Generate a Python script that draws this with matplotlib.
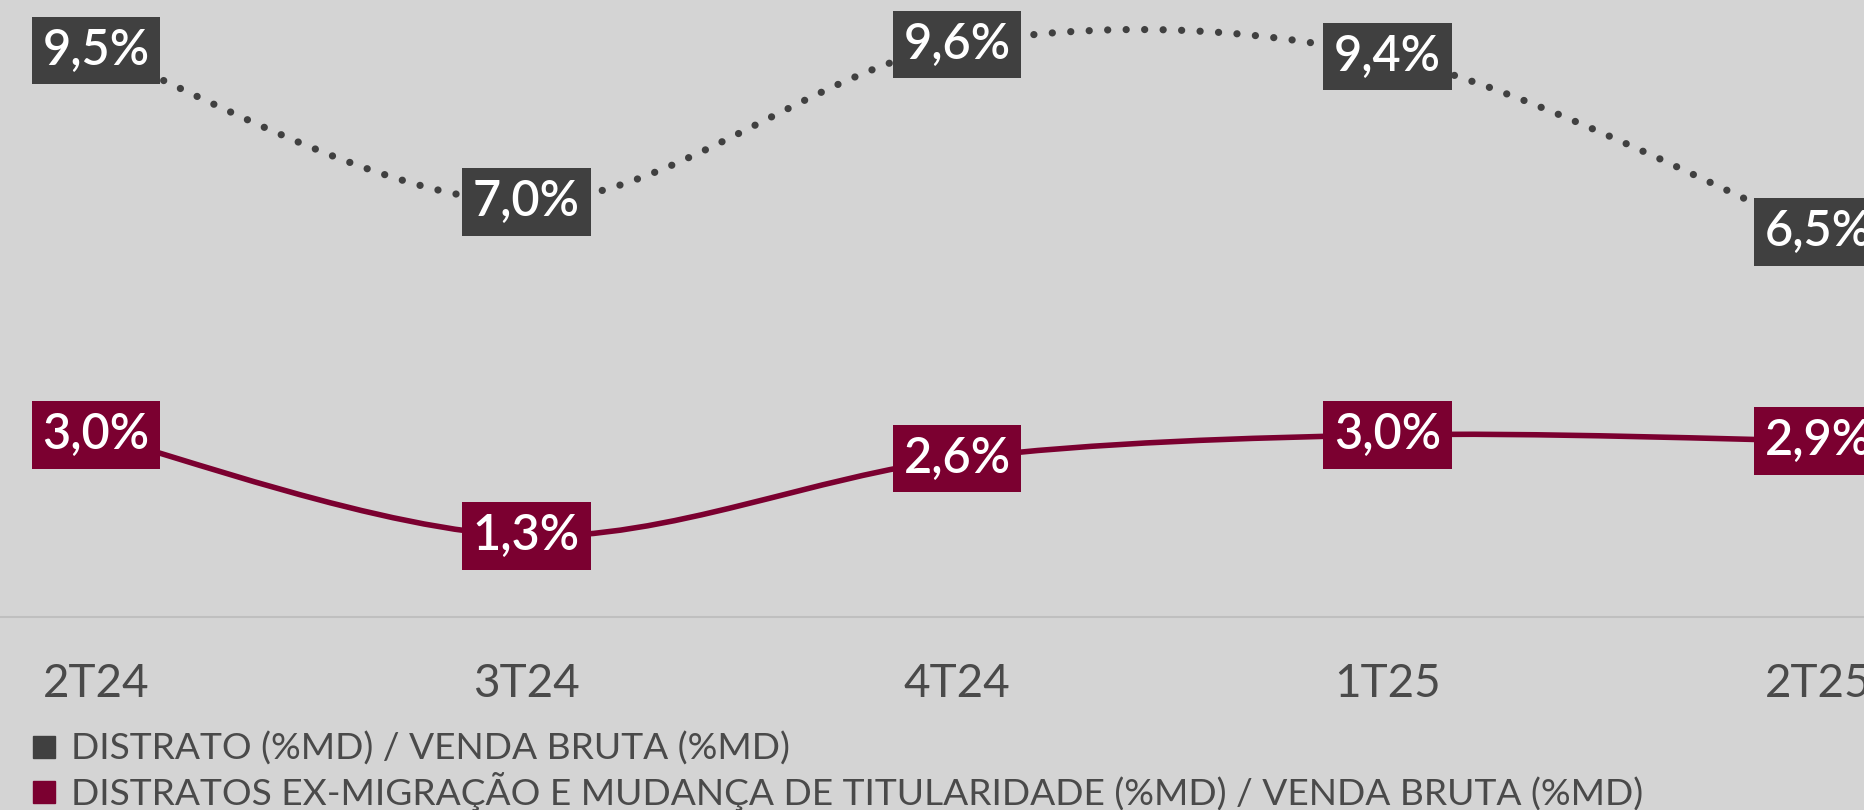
import matplotlib
matplotlib.use("Agg")
import matplotlib.pyplot as plt
from matplotlib.path import Path
from matplotlib.patches import PathPatch
from matplotlib.lines import Line2D

categories = ['2T24', '3T24', '4T24', '1T25', '2T25']
distrato = [9.5, 7.0, 9.6, 9.4, 6.5]
distrato_ex = [3.0, 1.3, 2.6, 3.0, 2.9]
legend_labels = ['DISTRATO (%MD) / VENDA BRUTA (%MD)',
                 'DISTRATOS EX-MIGRAÇÃO E MUDANÇA DE TITULARIDADE (%MD) / VENDA BRUTA (%MD)']

BG = '#D4D4D4'
GRAY = '#404040'
RED = '#7B0030'
TXT = '#4A4A4A'

W, H = 1865, 810
fig = plt.figure(figsize=(W / 100, H / 100), dpi=100, facecolor=BG)
ax_bottom_px = 617
ax = fig.add_axes([0, (H - ax_bottom_px) / H, 1, ax_bottom_px / H])
ax.set_facecolor(BG)
ax2 = ax.twinx()
ax2.patch.set_visible(False)

x = list(range(len(categories)))
step = 430.5
ax.set_xlim(-96 / step, (W - 96) / step)
ax.set_ylim(0.13, 10.34)
ax2.set_ylim(-0.06, 10.31)


def smooth_path(xs, ys):
    verts = [(xs[0], ys[0])]
    codes = [Path.MOVETO]
    n = len(xs)
    for i in range(n - 1):
        p0 = i - 1 if i > 0 else i
        p3 = i + 2 if i + 2 < n else i + 1
        c1 = (xs[i] + (xs[i + 1] - xs[p0]) / 6, ys[i] + (ys[i + 1] - ys[p0]) / 6)
        c2 = (xs[i + 1] - (xs[p3] - xs[i]) / 6, ys[i + 1] - (ys[p3] - ys[i]) / 6)
        verts += [c1, c2, (xs[i + 1], ys[i + 1])]
        codes += [Path.CURVE4] * 3
    return Path(verts, codes)


p1 = PathPatch(smooth_path(x, distrato), fill=False, edgecolor=GRAY, lw=5.2,
               linestyle=(0, (0.01, 2.55)), capstyle='round', zorder=2)
ax.add_patch(p1)
p2 = PathPatch(smooth_path(x, distrato_ex), fill=False, edgecolor=RED, lw=4.0,
               capstyle='round', zorder=2)
ax2.add_patch(p2)


def fmt(v):
    return f"{v:.1f}".replace('.', ',') + '%'


lab_font = dict(family=['Lato', 'DejaVu Sans'], fontsize=35, weight='semibold', color='white')
for xi, v in zip(x, distrato):
    ax.text(xi, v, fmt(v), ha='center', va='center', zorder=5, **lab_font,
            bbox=dict(boxstyle='square,pad=0.22', fc=GRAY, ec='none'))
for xi, v in zip(x, distrato_ex):
    ax2.text(xi, v, fmt(v), ha='center', va='center', zorder=5, **lab_font,
             bbox=dict(boxstyle='square,pad=0.22', fc=RED, ec='none'))

for s in ['top', 'left', 'right']:
    ax.spines[s].set_visible(False)
    ax2.spines[s].set_visible(False)
ax2.spines['bottom'].set_visible(False)
ax.spines['bottom'].set_color('#BFBFBF')
ax.spines['bottom'].set_linewidth(1.5)
ax.set_yticks([])
ax2.set_yticks([])
ax.set_xticks(x)
ax.set_xticklabels(categories, family=['Lato', 'DejaVu Sans'], weight='normal',
                   fontsize=33, color=TXT)
ax.tick_params(axis='x', length=0, pad=33)

handles = [Line2D([], [], marker='s', linestyle='none', markersize=16, color=GRAY),
           Line2D([], [], marker='s', linestyle='none', markersize=16, color=RED)]
fig.legend(handles, legend_labels, loc='upper left', bbox_to_anchor=(30 / W, 1 - 732 / H),
           frameon=False, prop=dict(family=['Lato', 'DejaVu Sans'], weight='normal', size=26.7),
           labelcolor=TXT, handlelength=0.75, handletextpad=0.35, labelspacing=0.15,
           borderpad=0, borderaxespad=0)

fig.savefig('out.png', dpi=100, facecolor=BG)
